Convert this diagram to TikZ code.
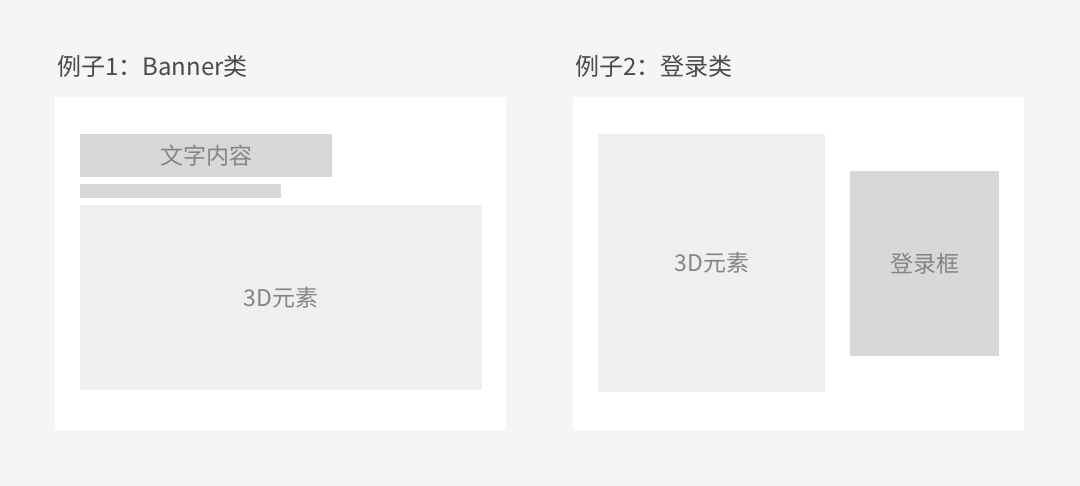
\documentclass[tikz,border=0pt]{standalone}
\usepackage{fontspec}
\newfontfamily\cjk{Noto Sans CJK SC}
\definecolor{bg}{HTML}{F5F5F5}
\definecolor{lightbox}{HTML}{EFEFEF}
\definecolor{darkbox}{HTML}{D8D8D8}
\definecolor{boxtext}{HTML}{858585}
\definecolor{titletext}{HTML}{4A4A4A}
\tikzset{
  panel/.style={fill=white, draw=none, inner sep=0pt, anchor=north west},
  lbox/.style={fill=lightbox, draw=none, inner sep=0pt, anchor=north west, text=boxtext, font=\cjk\fontsize{23}{26}\selectfont},
  dbox/.style={fill=darkbox, draw=none, inner sep=0pt, anchor=north west, text=boxtext, font=\cjk\fontsize{23}{26}\selectfont},
  title/.style={anchor=west, inner sep=0pt, text=titletext, font=\cjk\fontsize{24}{28}\selectfont}
}
\begin{document}
\begin{tikzpicture}[x=1pt,y=-1pt]
\fill[bg] (0,0) rectangle (1080,486);
\useasboundingbox (0,0) rectangle (1080,486);
% titles
\node[title] (t1) at (57,66) {例子1：Banner类};
\node[title] (t2) at (575,66) {例子2：登录类};
% panels
\node[panel, minimum width=451pt, minimum height=333pt] (p1) at (55,97) {};
\node[panel, minimum width=451pt, minimum height=333pt] (p2) at (573,97) {};
% panel 1 content
\node[dbox, minimum width=252pt, minimum height=43pt] (txt) at (80,134) {文字内容};
\node[dbox, minimum width=201pt, minimum height=14pt] (bar) at (80,184) {};
\node[lbox, minimum width=402pt, minimum height=185pt] (e1) at (80,205) {3D元素};
% panel 2 content
\node[lbox, minimum width=227pt, minimum height=258pt] (e2) at (598,134) {3D元素};
\node[dbox, minimum width=149pt, minimum height=185pt] (login) at (850,171) {登录框};
\end{tikzpicture}
\end{document}
